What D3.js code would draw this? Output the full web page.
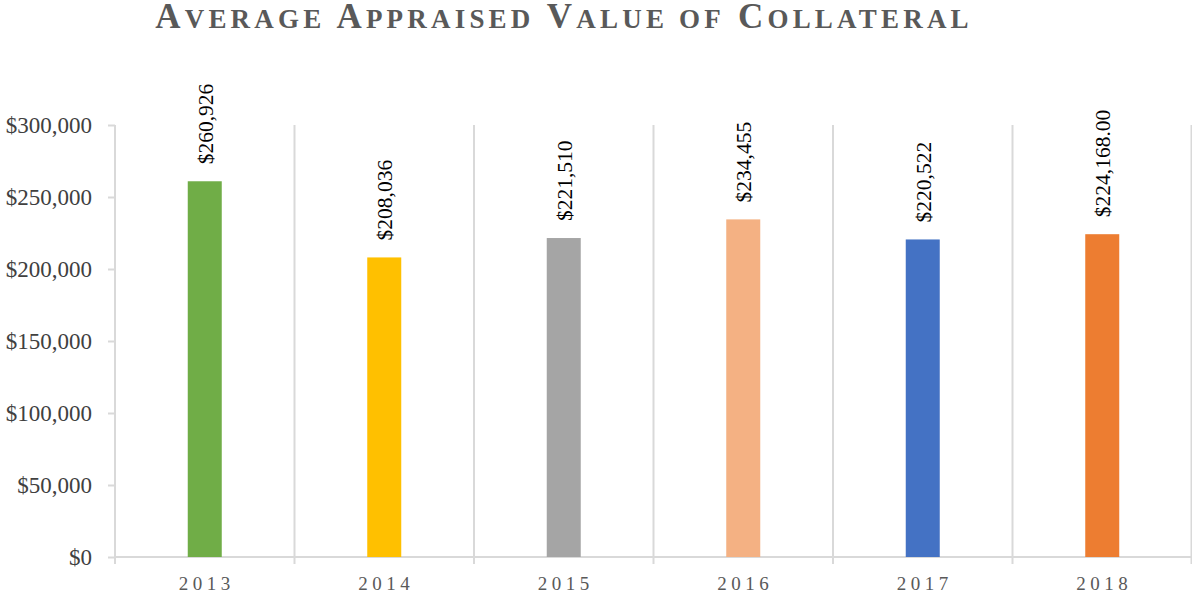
<!DOCTYPE html>
<html>
<head>
<meta charset="utf-8">
<script src="https://cdn.jsdelivr.net/npm/d3@7"></script>
<style>
  body { margin: 0; background: #fff; }
  text { font-family: "Liberation Serif", "Times New Roman", serif; }
</style>
</head>
<body>
<svg id="chart" width="1192" height="598"></svg>
<script>
// valeurs
var titleText = "Average Appraised Value of Collateral";
var years = ["2013", "2014", "2015", "2016", "2017", "2018"];
var values = [260926, 208036, 221510, 234455, 220522, 224168];
var valueLabels = ["$260,926", "$208,036", "$221,510", "$234,455", "$220,522", "$224,168.00"];
var barColors = ["#70ad47", "#ffc000", "#a5a5a5", "#f4b183", "#4472c4", "#ed7d31"];
var yTicks = [0, 50000, 100000, 150000, 200000, 250000, 300000];

var svg = d3.select("#chart");
var mLeft = 115, mRight = 1192, mTop = 125, mBottom = 557;

var x = d3.scaleBand().domain(years).range([mLeft, mRight]).paddingInner(0).paddingOuter(0);
var y = d3.scaleLinear().domain([0, 300000]).range([mBottom, mTop]);
var barW = 34;
var grid = "#d9d9d9";
var serif = "'Liberation Serif', 'Times New Roman', serif";

// titre en petites capitales (construites à la main)
var title = svg.append("text")
    .attr("x", 564).attr("y", 28)
    .attr("text-anchor", "middle")
    .style("font-family", serif)
    .style("font-weight", "bold")
    .style("letter-spacing", "4.2px")
    .style("fill", "#595959");
titleText.split(" ").forEach(function(w, i) {
    var first = w.charAt(0), rest = w.slice(1);
    if (first === first.toUpperCase()) {
        title.append("tspan").style("font-size", "35px").text((i ? " " : "") + first);
    } else {
        title.append("tspan").style("font-size", "27px").text((i ? " " : "") + first.toUpperCase());
    }
    title.append("tspan").style("font-size", "27px").text(rest.toUpperCase());
});

// lignes verticales aux limites des catégories
var bounds = years.map(function(d) { return x(d); }).concat([mRight - 0.5]);
svg.append("g").selectAll("line")
    .data(bounds).enter().append("line")
    .attr("x1", function(d) { return d; }).attr("x2", function(d) { return d; })
    .attr("y1", mTop).attr("y2", mBottom + 7)
    .attr("stroke", grid).attr("stroke-width", 2);

// axe y
var yAxis = svg.append("g")
    .attr("transform", "translate(" + mLeft + ",0)")
    .call(d3.axisLeft(y).tickValues(yTicks).tickSize(7).tickPadding(16)
        .tickFormat(function(d) { return "$" + d3.format(",")(d); }));
yAxis.select(".domain").remove();
yAxis.selectAll(".tick line").attr("stroke", grid).attr("stroke-width", 2);
yAxis.selectAll(".tick text")
    .style("font-size", "23px").style("font-family", serif)
    .attr("fill", "#404040");

// ligne de base
svg.append("line")
    .attr("x1", mLeft).attr("x2", mRight).attr("y1", mBottom).attr("y2", mBottom)
    .attr("stroke", grid).attr("stroke-width", 2);

// barres
svg.append("g").selectAll("rect")
    .data(years).enter().append("rect")
    .attr("x", function(d) { return x(d) + x.bandwidth() / 2 - barW / 2; })
    .attr("y", function(d, i) { return y(values[i]); })
    .attr("width", barW)
    .attr("height", function(d, i) { return mBottom - y(values[i]); })
    .attr("fill", function(d, i) { return barColors[i]; });

// étiquettes de valeur
svg.append("g").selectAll("text")
    .data(years).enter().append("text")
    .attr("transform", function(d, i) {
        return "translate(" + (x(d) + x.bandwidth() / 2 + 8) + "," + (y(values[i]) - 17) + ") rotate(-90)";
    })
    .style("font-family", serif)
    .style("font-size", "21.5px")
    .style("fill", "#000")
    .text(function(d, i) { return valueLabels[i]; });

// étiquettes x
svg.append("g").selectAll("text")
    .data(years).enter().append("text")
    .attr("x", function(d) { return x(d) + x.bandwidth() / 2 + 2; })
    .attr("y", 590)
    .attr("text-anchor", "middle")
    .style("font-family", serif)
    .style("font-size", "19px")
    .style("letter-spacing", "4.5px")
    .style("fill", "#595959")
    .text(function(d) { return d; });
</script>
</body>
</html>
